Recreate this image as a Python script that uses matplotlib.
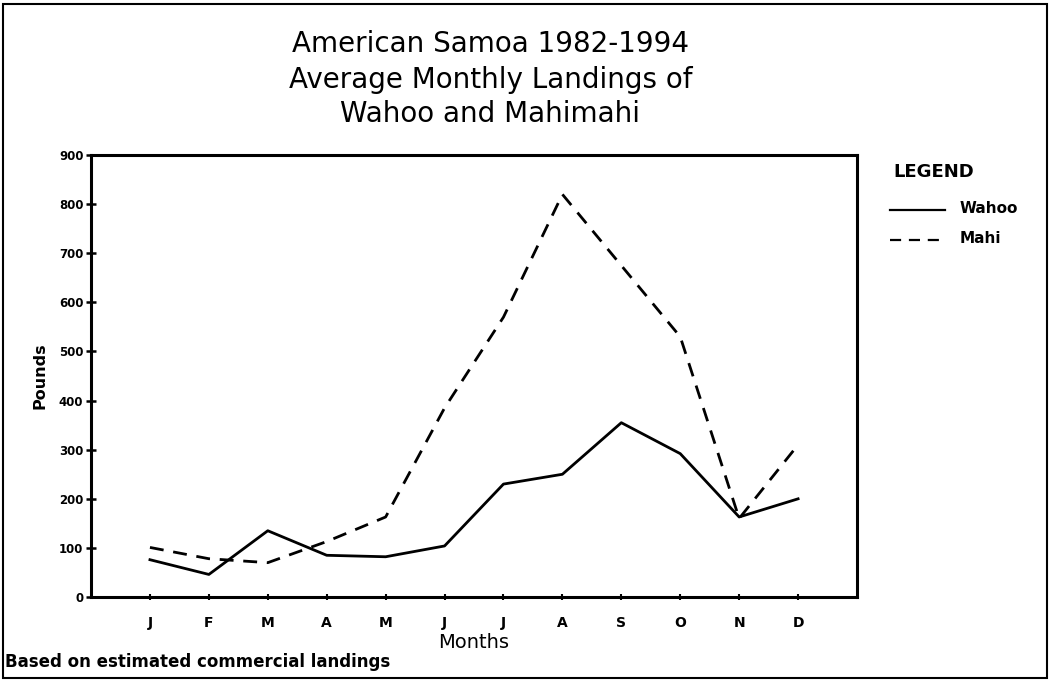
import numpy as np
from matplotlib import pyplot as plt
from matplotlib.patches import Rectangle

# monthly landings (pounds)
months = ["J", "F", "M", "A", "M", "J", "J", "A", "S", "O", "N", "D"]
wahoo = [76, 46, 135, 85, 82, 104, 230, 250, 355, 292, 163, 200]
mahi = [101, 78, 70, 113, 163, 385, 570, 820, 675, 530, 160, 310]
yticks = [0, 100, 200, 300, 400, 500, 600, 700, 800, 900]

fig = plt.figure(figsize=(10.5, 6.81), dpi=100)
ax = fig.add_axes([0.0867, 0.1233, 0.7295, 0.649])

x = np.arange(1, len(months) + 1)
ax.plot(x, wahoo, color="black", lw=2.0, label="Wahoo")
ax.plot(x, mahi, color="black", lw=2.0, linestyle=(0, (5, 3.5)), label="Mahi")

ax.set_xlim(0, 13)
ax.set_ylim(0, 900)
ax.set_xticks(x)
ax.set_xticklabels(months, fontsize=10, fontweight="bold")
ax.set_yticks(yticks)
ax.set_yticklabels([str(v) for v in yticks], fontsize=8.5, fontweight="bold")
ax.tick_params(axis="y", direction="inout", length=7, width=1.8, pad=2)
ax.tick_params(axis="x", direction="inout", length=5, width=1.5, pad=11)
for s in ax.spines.values():
    s.set_linewidth(2.2)

ax.set_xlabel("Months", fontsize=14, labelpad=2)
ax.set_ylabel("Pounds", fontsize=11.5, fontweight="bold", labelpad=8)

# title
fig.text(0.467, 0.935, "American Samoa 1982-1994", ha="center", va="center", fontsize=20)
fig.text(0.467, 0.883, "Average Monthly Landings of", ha="center", va="center", fontsize=20)
fig.text(0.467, 0.833, "Wahoo and Mahimahi", ha="center", va="center", fontsize=20)

# legend drawn by hand
fig.text(0.851, 0.748, "LEGEND", fontsize=13, fontweight="bold", va="center")
fig.lines.append(plt.Line2D([0.848, 0.9], [0.692, 0.692], transform=fig.transFigure,
                            color="black", lw=1.6))
fig.lines.append(plt.Line2D([0.848, 0.9], [0.648, 0.648], transform=fig.transFigure,
                            color="black", lw=1.6, linestyle=(0, (5, 3.5))))
fig.text(0.914, 0.694, "Wahoo", fontsize=11, fontweight="bold", va="center")
fig.text(0.914, 0.650, "Mahi", fontsize=11, fontweight="bold", va="center")

fig.text(0.005, 0.028, "Based on estimated commercial landings", fontsize=12,
         fontweight="bold", va="center")

# page border
fig.patches.append(Rectangle((0.003, 0.004), 0.994, 0.99, transform=fig.transFigure,
                             fill=False, edgecolor="black", lw=1.5))

fig.savefig("out.png", dpi=100)
